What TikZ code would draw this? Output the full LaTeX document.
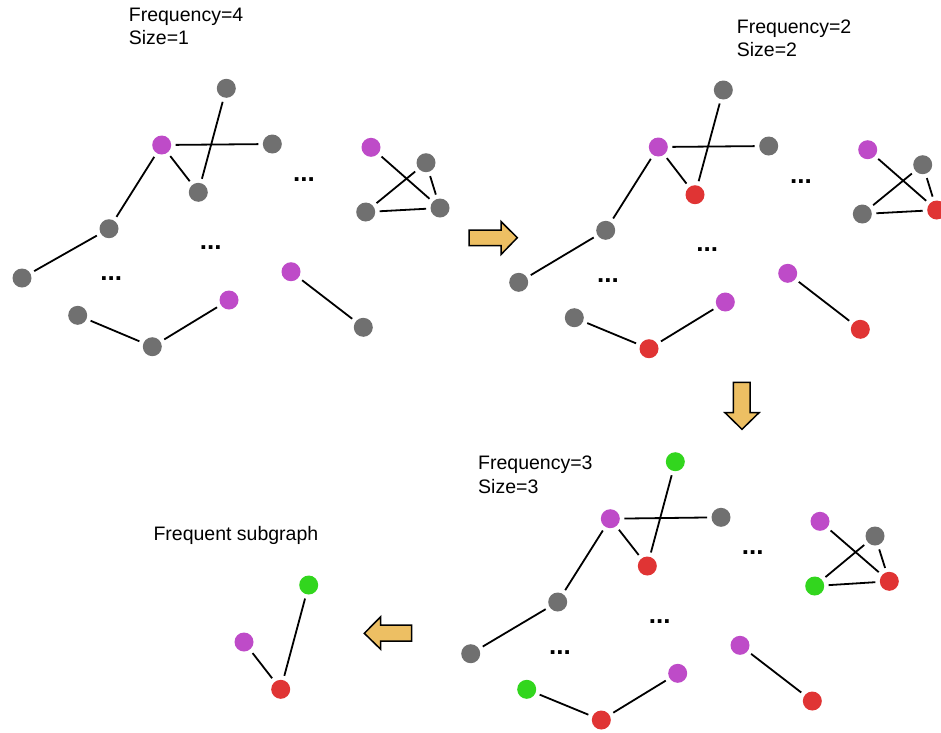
\documentclass[tikz,border=0pt]{standalone}
\usepackage{fontspec}
\setmainfont{Liberation Sans}
\definecolor{ngray}{RGB}{112,112,112}
\definecolor{npurple}{RGB}{190,75,200}
\definecolor{nred}{RGB}{224,52,52}
\definecolor{ngreen}{RGB}{50,214,30}
\definecolor{arrfill}{RGB}{237,191,99}
\tikzset{
  vtx/.style={circle,inner sep=0pt,minimum size=19pt,outer sep=4.5pt,draw=none},
  gv/.style={vtx,fill=ngray},
  pv/.style={vtx,fill=npurple},
  rv/.style={vtx,fill=nred},
  ev/.style={vtx,fill=ngreen},
  edge/.style={line width=1.8pt,black},
  lbl/.style={inner sep=0pt,anchor=north west,align=left,font=\fontsize{19.5}{23.3}\selectfont},
  dots/.style={inner sep=0pt,font=\fontsize{26}{26}\selectfont\bfseries},
  blockarrow/.style={fill=arrfill,draw=black,line width=1.5pt,line join=miter}
}
\begin{document}
\begin{tikzpicture}[x=1pt,y=-1pt]
\useasboundingbox (0,0) rectangle (941,732);
% ---------- Panel 1 ----------
\node[lbl] (t1) at (128.7,7.7) {Frequency=4\\Size=1};
\node[gv] (a1) at (226.3,88.3) {};
\node[pv] (a2) at (161.7,145) {};
\node[gv] (a3) at (272.3,144) {};
\node[gv] (a4) at (198.3,192.3) {};
\node[gv] (a5) at (109,228.7) {};
\node[gv] (a6) at (22,278) {};
\node[gv] (a7) at (77.7,315.3) {};
\node[gv] (a8) at (152.3,346.7) {};
\node[pv] (a9) at (229,300) {};
\node[pv] (a10) at (291,271.7) {};
\node[gv] (a11) at (363.3,327.3) {};
\node[pv] (a12) at (371,147.3) {};
\node[gv] (a13) at (426,162.7) {};
\node[gv] (a14) at (365.7,212) {};
\node[gv] (a15) at (440,208) {};
\node[dots] (ad1) at (304,180) {...};
\node[dots] (ad2) at (210.7,247.7) {...};
\node[dots] (ad3) at (111.3,278.3) {...};
\draw[edge] (a2)--(a3) (a2)--(a4) (a1)--(a4) (a2)--(a5) (a5)--(a6)
  (a7)--(a8) (a8)--(a9) (a10)--(a11)
  (a12)--(a15) (a13)--(a14) (a13)--(a15) (a14)--(a15);
% ---------- Panel 2 ----------
\node[lbl] (t2) at (736.7,19.3) {Frequency=2\\Size=2};
\node[gv] (b1) at (723.3,90) {};
\node[pv] (b2) at (658.3,147) {};
\node[gv] (b3) at (768.7,146) {};
\node[rv] (b4) at (695,194.7) {};
\node[gv] (b5) at (605.7,230.3) {};
\node[gv] (b6) at (518.7,282.3) {};
\node[gv] (b7) at (574.3,317.7) {};
\node[rv] (b8) at (649,348.7) {};
\node[pv] (b9) at (725.3,302) {};
\node[pv] (b10) at (787.7,273.3) {};
\node[rv] (b11) at (860.3,329.3) {};
\node[pv] (b12) at (867.7,149.7) {};
\node[gv] (b13) at (922.7,164.7) {};
\node[gv] (b14) at (862.3,214) {};
\node[rv] (b15) at (936.7,210) {};
\node[dots] (bd1) at (801,181.7) {...};
\node[dots] (bd2) at (707.3,250) {...};
\node[dots] (bd3) at (608,281) {...};
\draw[edge] (b2)--(b3) (b2)--(b4) (b1)--(b4) (b2)--(b5) (b5)--(b6)
  (b7)--(b8) (b8)--(b9) (b10)--(b11)
  (b12)--(b15) (b13)--(b14) (b13)--(b15) (b14)--(b15);
% ---------- Panel 3 ----------
\node[lbl] (t3) at (478,456) {Frequency=3\\Size=3};
\node[ev] (c1) at (675.3,461.7) {};
\node[pv] (c2) at (610.3,518.7) {};
\node[gv] (c3) at (721,517.3) {};
\node[rv] (c4) at (647.3,566) {};
\node[gv] (c5) at (557.7,602) {};
\node[gv] (c6) at (470.7,653.7) {};
\node[ev] (c7) at (526.7,689.3) {};
\node[rv] (c8) at (601.3,720) {};
\node[pv] (c9) at (677.7,673.3) {};
\node[pv] (c10) at (740,645.3) {};
\node[rv] (c11) at (812.3,701) {};
\node[pv] (c12) at (820,521.3) {};
\node[gv] (c13) at (875,536) {};
\node[ev] (c14) at (814.7,586) {};
\node[rv] (c15) at (889.3,581.3) {};
\node[dots] (cd1) at (752.7,552.7) {...};
\node[dots] (cd2) at (659.7,621.7) {...};
\node[dots] (cd3) at (560,652.7) {...};
\draw[edge] (c2)--(c3) (c2)--(c4) (c1)--(c4) (c2)--(c5) (c5)--(c6)
  (c7)--(c8) (c8)--(c9) (c10)--(c11)
  (c12)--(c15) (c13)--(c14) (c13)--(c15) (c14)--(c15);
% ---------- Panel 4 ----------
\node[lbl,anchor=base west] (t4) at (153.3,540.7) {Frequent subgraph};
\node[ev] (d1) at (308.7,585) {};
\node[pv] (d2) at (244,642) {};
\node[rv] (d3) at (280.7,689.3) {};
\draw[edge] (d1)--(d3) (d2)--(d3);
% ---------- Arrows ----------
\draw[blockarrow] (469,230) -- (501,230) -- (501,221.5) -- (517.3,237.7) -- (501,254.5) -- (501,245.7) -- (469,245.7) -- cycle;
\draw[blockarrow] (733.3,382.3) -- (750,382.3) -- (750,412.7) -- (759,412.7) -- (742,429.3) -- (725,412.7) -- (733.3,412.7) -- cycle;
\draw[blockarrow] (411.7,625) -- (380.7,625) -- (380.7,616.7) -- (364.3,633.3) -- (380.7,649.3) -- (380.7,641) -- (411.7,641) -- cycle;
\end{tikzpicture}
\end{document}
